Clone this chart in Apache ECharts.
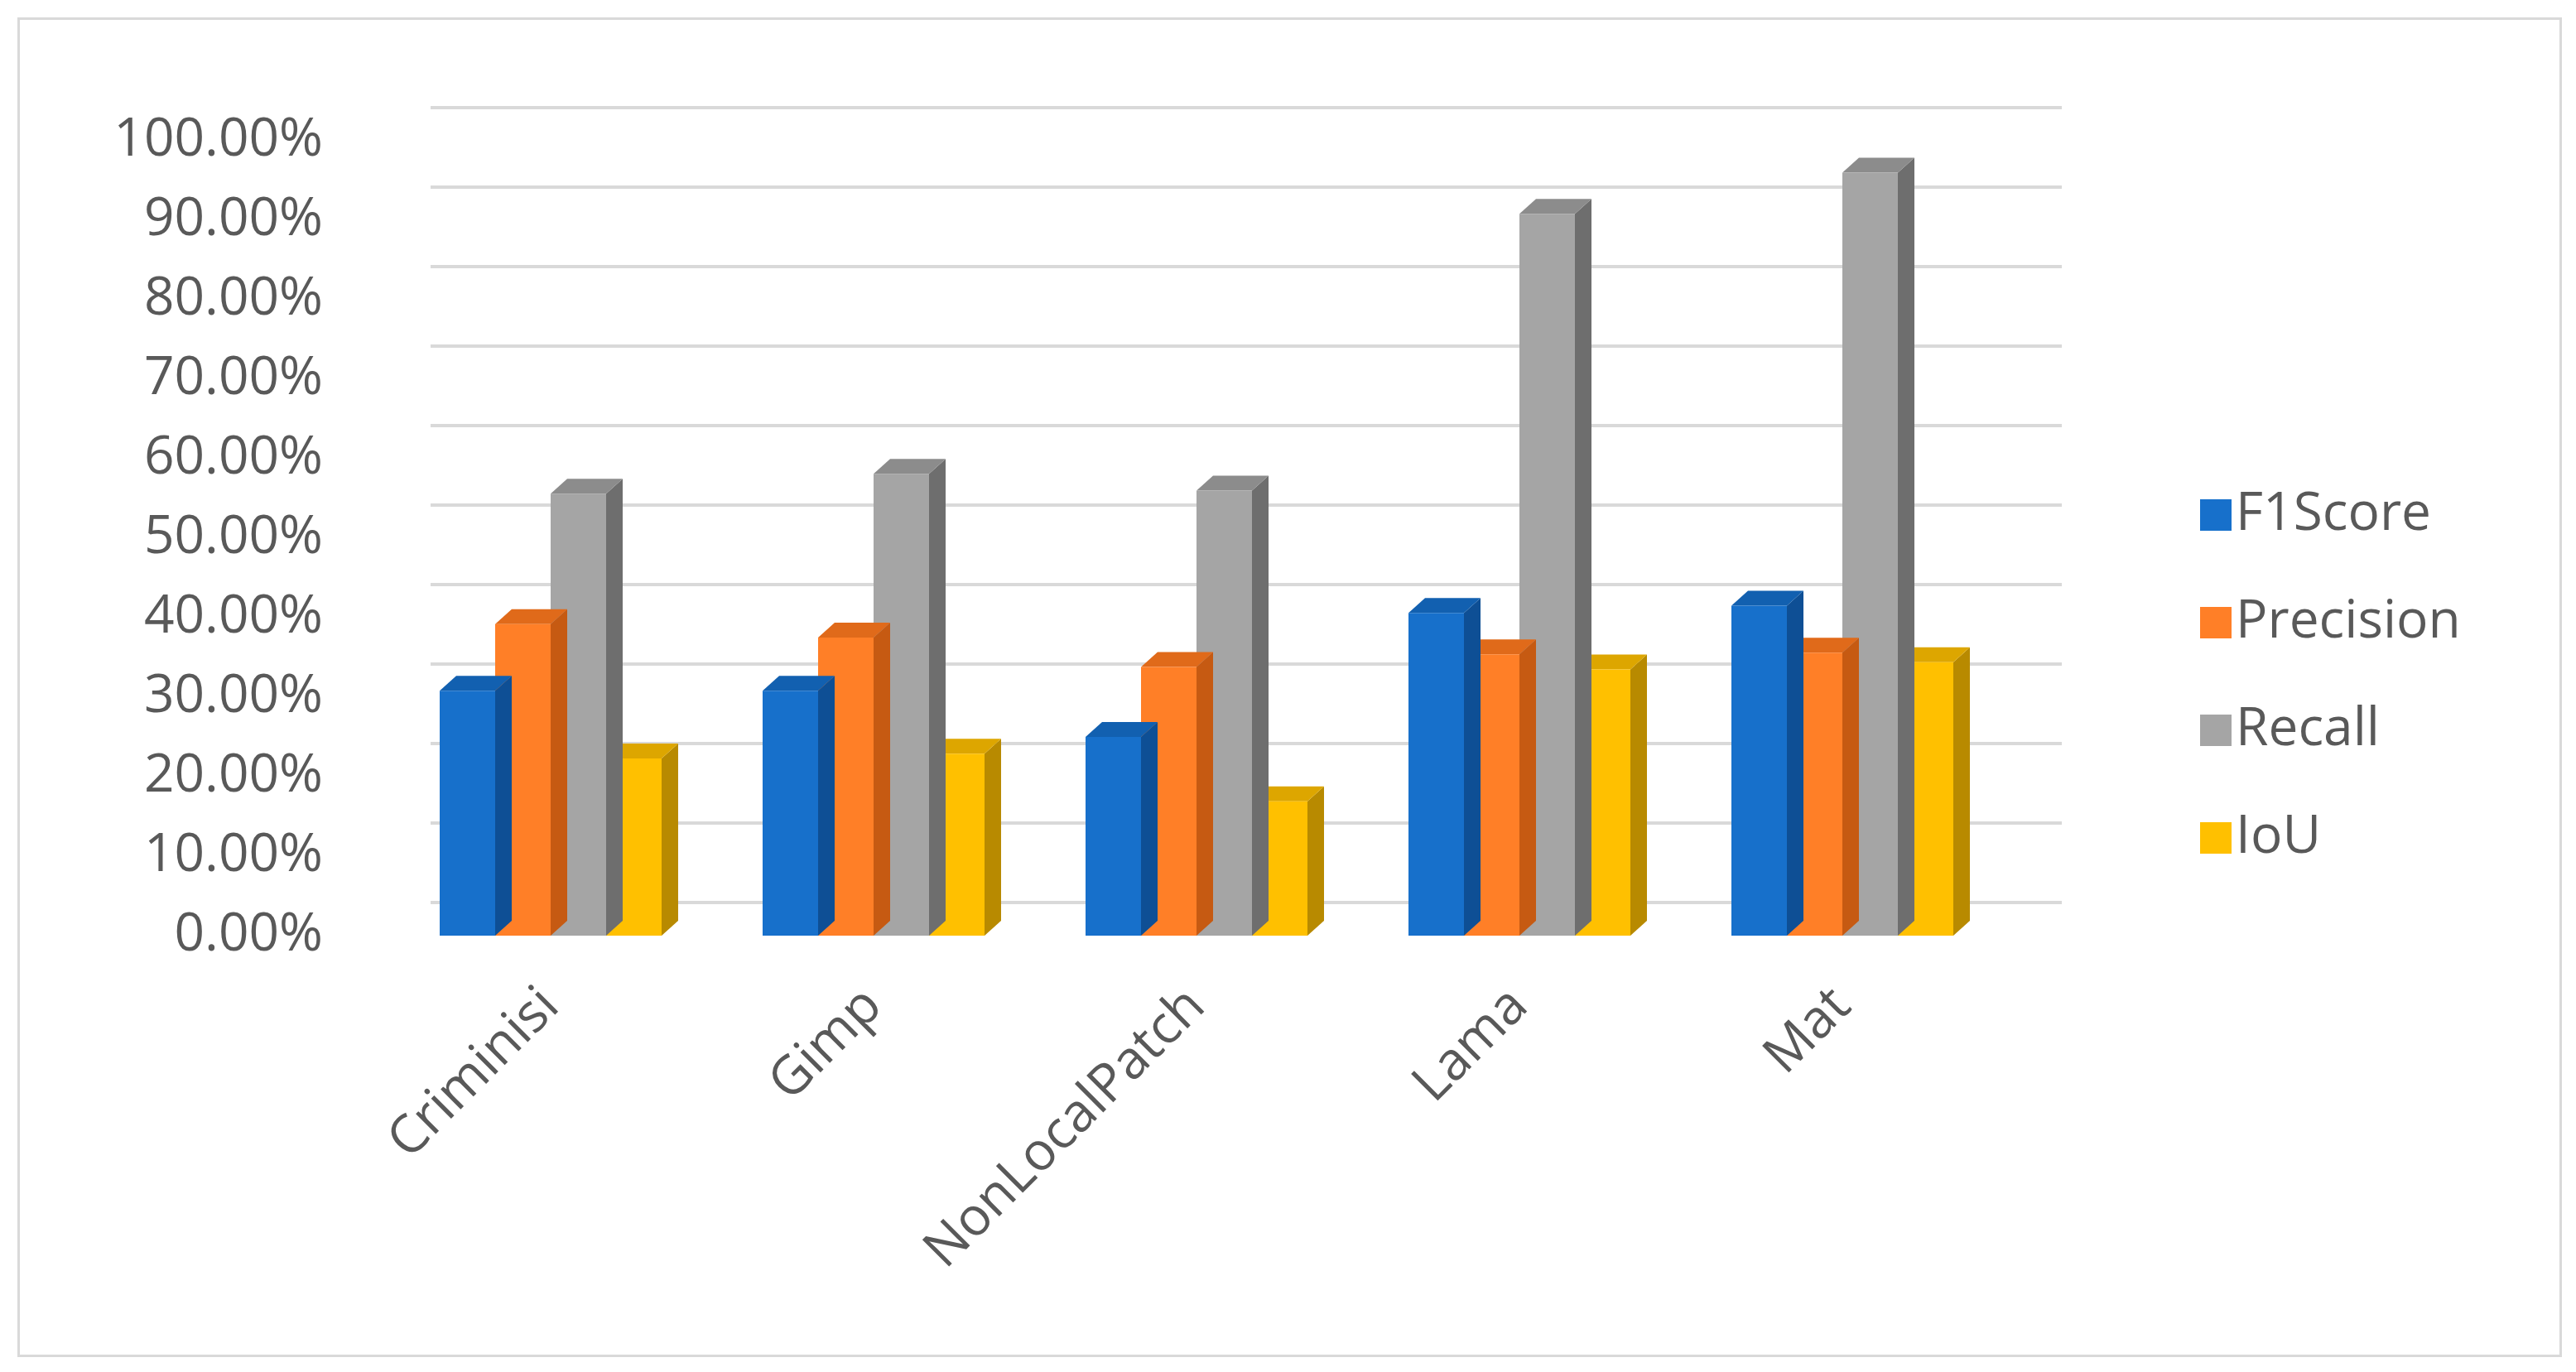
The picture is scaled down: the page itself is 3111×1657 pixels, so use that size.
<!DOCTYPE html>
<html>
<head>
<meta charset="utf-8">
<script src="https://cdn.jsdelivr.net/npm/echarts@6/dist/echarts.min.js"></script>
<style>html,body{margin:0;padding:0;background:#fff}#main{width:3111px;height:1657px}</style>
</head>
<body>
<div id="main"></div>
<script>
var categories = ['Criminisi', 'Gimp', 'NonLocalPatch', 'Lama', 'Mat'];
var seriesNames = ['F1Score', 'Precision', 'Recall', 'IoU'];
var f1Score = [30.8, 30.8, 25.0, 40.6, 41.5];
var precision = [39.2, 37.5, 33.8, 35.4, 35.6];
var recall = [55.6, 58.1, 56.0, 90.8, 96.0];
var iou = [22.3, 22.9, 16.9, 33.5, 34.4];
var colors = ['#1770CB', '#FF7F27', '#A5A5A5', '#FFC000'];
var sideColors = ['#0E4F95', '#C65A12', '#6E6E6E', '#B88A00'];
var topColors = ['#1260B0', '#E06A1A', '#8C8C8C', '#DDA600'];

(function drawBars() {
    var chartDom = document.getElementById('main');
    var myChart = echarts.init(chartDom);
    var barW = 67, depthX = 20, depthY = 18;
    var allData = [f1Score, precision, recall, iou];

    function renderBar(params, api) {
        var s = params.seriesIndex;
        var top = api.coord([api.value(0), api.value(1)]);
        var base = api.coord([api.value(0), 0]);
        var x0 = top[0] + (s - 2) * barW;
        var x1 = x0 + barW;
        var y0 = top[1], y1 = base[1];
        return {
            type: 'group',
            children: [
                { type: 'polygon', shape: { points: [[x1, y1], [x1 + depthX, y1 - depthY], [x1 + depthX, y0 - depthY], [x1, y0]] }, style: { fill: sideColors[s] } },
                { type: 'polygon', shape: { points: [[x0, y0], [x0 + depthX, y0 - depthY], [x1 + depthX, y0 - depthY], [x1, y0]] }, style: { fill: topColors[s] } },
                { type: 'rect', shape: { x: x0, y: y0, width: barW, height: y1 - y0 }, style: { fill: colors[s] } }
            ]
        };
    }

    var series = seriesNames.map(function (name, i) {
        return {
            name: name,
            type: 'custom',
            xAxisIndex: 0,
            yAxisIndex: 0,
            itemStyle: { color: colors[i] },
            renderItem: renderBar,
            encode: { x: 0, y: 1 },
            data: allData[i].map(function (v, k) { return [k, v]; }),
            z: 10 - i
        };
    });

    var option = {
        animation: false,
        color: colors,
        graphic: [{
            type: 'rect', left: 20, top: 20,
            shape: { width: 3070, height: 1615 },
            style: { fill: 'none', stroke: '#D9D9D9', lineWidth: 3 }
        }],
        legend: {
            data: seriesNames,
            orient: 'vertical',
            left: 2652,
            top: 585,
            icon: 'rect',
            itemWidth: 38,
            itemHeight: 38,
            itemGap: 66,
            textStyle: { fontSize: 64, color: '#595959', fontFamily: 'Open Sans' }
        },
        grid: [
            { left: 470, width: 1950, top: 170, height: 960 },
            { left: 470 + 50, width: 1950 + 20, top: 170 - 40, height: 960 }
        ],
        xAxis: [
            {
                type: 'category', gridIndex: 0, data: categories,
                axisLine: { show: false }, axisTick: { show: false },
                axisLabel: { rotate: 45, margin: 75, fontSize: 64, color: '#595959', fontFamily: 'Open Sans' }
            },
            {
                type: 'category', gridIndex: 1, data: categories, show: false
            }
        ],
        yAxis: [
            {
                type: 'value', gridIndex: 0, min: 0, max: 100, interval: 10,
                splitLine: { show: false }, axisLine: { show: false }, axisTick: { show: false },
                axisLabel: {
                    fontSize: 64, color: '#595959', margin: 80, fontFamily: 'Open Sans',
                    formatter: function (v) { return v.toFixed(2) + '%'; }
                }
            },
            {
                type: 'value', gridIndex: 1, min: 0, max: 100, interval: 10,
                axisLine: { show: false }, axisTick: { show: false }, axisLabel: { show: false },
                splitLine: { lineStyle: { color: '#D9D9D9', width: 4 } }
            }
        ],
        series: series
    };
    option && myChart.setOption(option);
})();
</script>
</body>
</html>
